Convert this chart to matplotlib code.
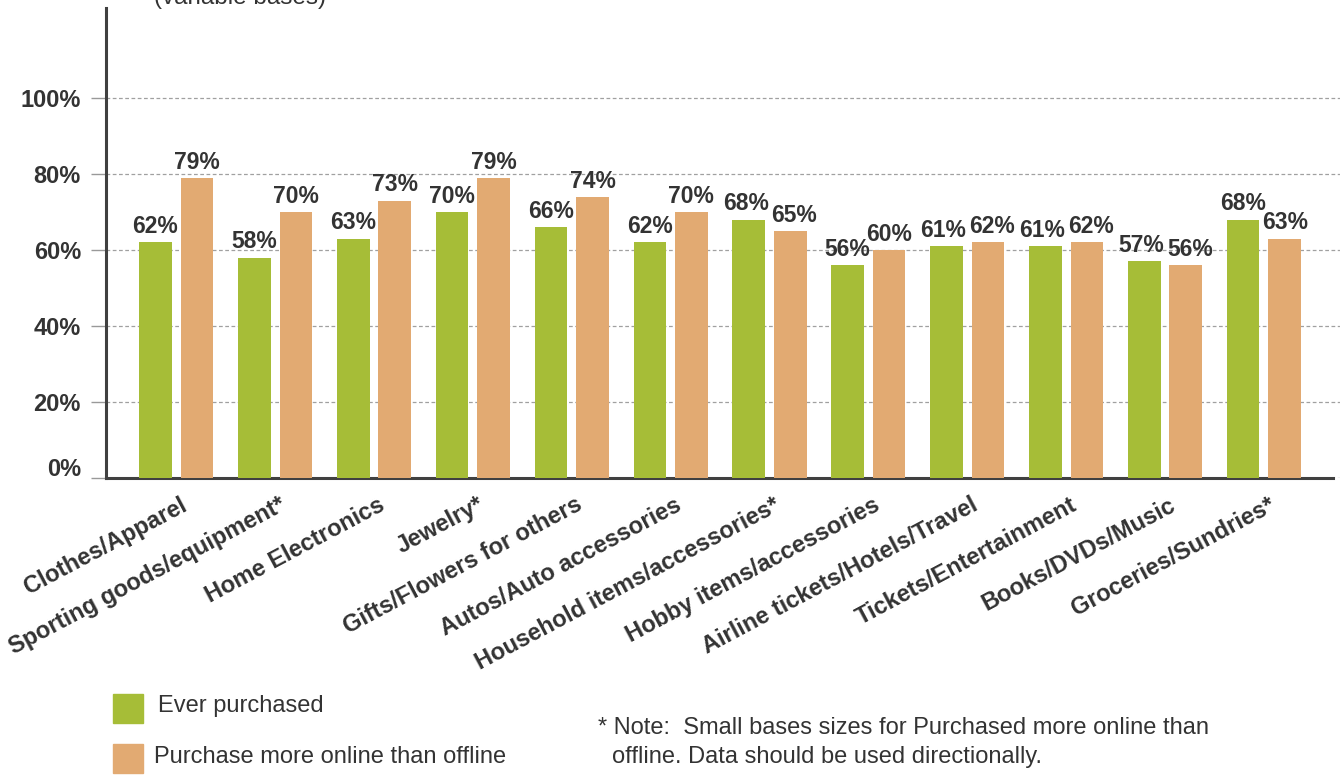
import numpy as np
import matplotlib.pyplot as plt
from matplotlib.patches import Rectangle
from matplotlib.transforms import ScaledTranslation

plt.rcParams['font.family'] = ['Liberation Sans', 'DejaVu Sans']

categories = ['Clothes/Apparel', 'Sporting goods/equipment*', 'Home Electronics',
              'Jewelry*', 'Gifts/Flowers for others', 'Autos/Auto accessories',
              'Household items/accessories*', 'Hobby items/accessories',
              'Airline tickets/Hotels/Travel', 'Tickets/Entertainment',
              'Books/DVDs/Music', 'Groceries/Sundries*']
ever_purchased = [62, 58, 63, 70, 66, 62, 68, 56, 61, 61, 57, 68]
more_online = [79, 70, 73, 79, 74, 70, 65, 60, 62, 62, 56, 63]
y_ticks = [0, 20, 40, 60, 80, 100]

GREEN = '#A6BD37'
ORANGE = '#E2AA72'
TEXT = '#333333'

fig = plt.figure(figsize=(13.44, 7.75), dpi=100)
ax = fig.add_axes([106 / 1344, 1 - 478 / 775, 1234 / 1344, 470 / 775])

x = np.arange(len(categories))
w = 0.33
off = 0.21
b1 = ax.bar(x - off, ever_purchased, w, color=GREEN, zorder=3)
b2 = ax.bar(x + off, more_online, w, color=ORANGE, zorder=3)

# value labels; push the pair apart a little when they sit at the same height
for i, (g, o) in enumerate(zip(ever_purchased, more_online)):
    close = abs(g - o) < 4
    for r, v, dx in ((b1[i], g, -3 if close else 0), (b2[i], o, 4 if close else 0)):
        ax.annotate(f'{v}%', (r.get_x() + r.get_width() / 2, v),
                    xytext=(dx * 0.72, 3), textcoords='offset points',
                    ha='center', va='bottom', fontsize=16.5, fontweight='bold',
                    color=TEXT)

ax.set_xlim(-0.71, 11.77)
ax.set_ylim(0, 123.7)
ax.set_yticks(y_ticks)
ax.set_yticklabels([f'{t}%' for t in y_ticks], fontsize=17, fontweight='bold',
                   color=TEXT)
ax.tick_params(axis='y', length=11, width=1, color='#999999', pad=7)
# the bottom label sits a little above the axis line
lbl0 = ax.get_yticklabels()[0]
lbl0.set_transform(lbl0.get_transform() + ScaledTranslation(0, 8 / 72, fig.dpi_scale_trans))

ax.set_xticks(x + 0.04)
ax.set_xticklabels(categories, rotation=28, ha='right', rotation_mode='anchor',
                   fontsize=17, fontweight='bold', color=TEXT)
ax.tick_params(axis='x', length=0, pad=11)

ax.yaxis.grid(True, linestyle=(0, (3, 2)), color='#A0A0A0', linewidth=0.9, zorder=0)
for s in ('top', 'right'):
    ax.spines[s].set_visible(False)
for s in ('left', 'bottom'):
    ax.spines[s].set_color('#404040')
    ax.spines[s].set_linewidth(2.2)
ax.spines['bottom'].set_bounds(-0.71, 11.7)

fig.text(240 / 1344, 1 - 4 / 775, '(variable bases)', ha='center', va='baseline',
         fontsize=17.5, color=TEXT)

# legend swatches and labels
fig.patches.append(Rectangle((113 / 1344, 1 - 723 / 775), 30 / 1344, 29 / 775,
                             transform=fig.transFigure, color=GREEN))
fig.patches.append(Rectangle((113 / 1344, 1 - 773 / 775), 30 / 1344, 29 / 775,
                             transform=fig.transFigure, color=ORANGE))
fig.text(158 / 1344, 1 - 706 / 775, 'Ever purchased', ha='left', va='center',
         fontsize=17, color=TEXT)
fig.text(154 / 1344, 1 - 757 / 775, 'Purchase more online than offline', ha='left',
         va='center', fontsize=17, color=TEXT)

fig.text(598 / 1344, 1 - 728 / 775,
         '* Note:  Small bases sizes for Purchased more online than', ha='left',
         va='center', fontsize=17, color=TEXT)
fig.text(612 / 1344, 1 - 757 / 775,
         'offline. Data should be used directionally.', ha='left',
         va='center', fontsize=17, color=TEXT)

fig.savefig('out.png', dpi=100)
